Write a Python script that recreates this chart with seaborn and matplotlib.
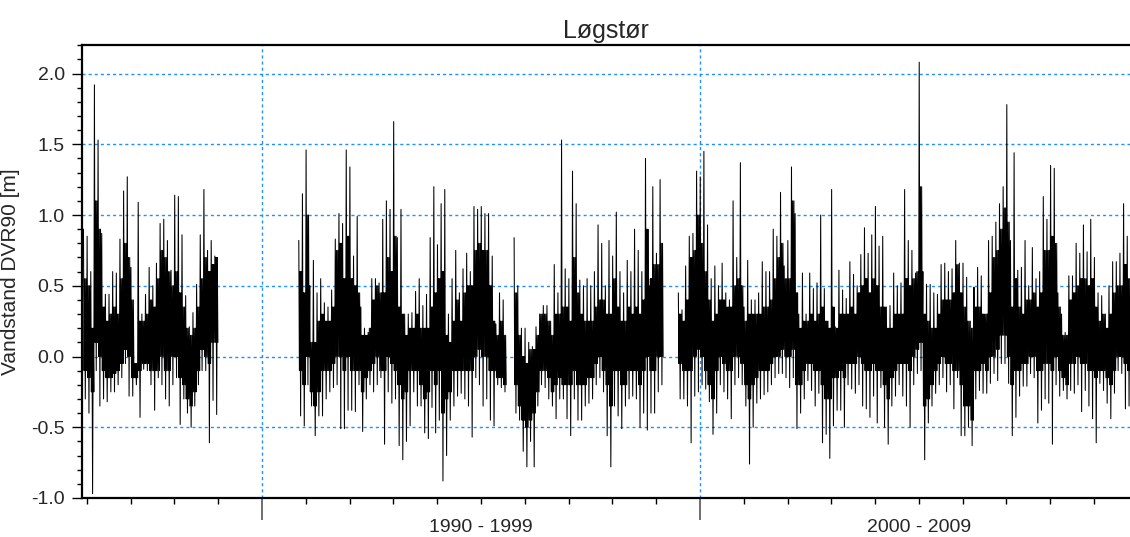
import numpy as np
import pandas as pd
import matplotlib
matplotlib.use("Agg")
import matplotlib.pyplot as plt
from matplotlib.ticker import MultipleLocator, FixedLocator, FormatStrFormatter, NullFormatter
import seaborn as sns

# ─── DATA (monthly water level, m DVR90) ─────────────────
# per segment: first month, monthly max / min and the dense "core" band (upper / lower)
SEG1_START = (1985, 12)
hi1 = [0.90, 0.85, 0.60, 1.92, 1.53, 0.87, 0.44, 0.44, 0.60, 0.59, 0.83, 1.17, 1.27,
       0.63, -0.05, 1.09, 0.30, 0.44, 0.63, 0.50, 0.66, 0.94, 0.97, 0.82, 0.61, 1.14,
       1.13, 0.86, 0.43, 0.21, 0.31, 0.51, 0.86, 1.18, 0.75, 0.82, 0.71]
lo1 = [-0.30, -0.40, -0.97, -0.10, -0.35, -0.30, -0.32, -0.25, -0.25, -0.20, -0.15, -0.05,
       -0.28, -0.28, -0.20, -0.43, -0.09, -0.10, -0.20, -0.38, -0.15, -0.20, -0.30, -0.35,
       -0.20, -0.15, -0.48, -0.30, -0.40, -0.50, -0.35, -0.20, -0.10, -0.10, -0.61, -0.31, -0.41]
chi1 = [0.55, 0.50, 0.20, 1.10, 0.90, 0.35, 0.25, 0.30, 0.35, 0.30, 0.55, 0.80, 0.70,
        0.40, -0.05, 0.25, 0.25, 0.30, 0.40, 0.35, 0.55, 0.75, 0.70, 0.60, 0.50, 0.60,
        0.45, 0.35, 0.20, 0.15, 0.20, 0.35, 0.55, 0.70, 0.60, 0.65, 0.70]
clo1 = [-0.10, -0.15, -0.25, 0.10, 0.00, -0.10, -0.15, -0.15, -0.12, -0.10, -0.05, 0.05,
        0.00, -0.15, -0.15, -0.10, -0.05, -0.05, -0.10, -0.10, -0.10, 0.00, -0.10, -0.10,
        0.00, 0.00, -0.15, -0.20, -0.30, -0.35, -0.25, -0.10, 0.05, 0.00, -0.05, 0.10, 0.10]

SEG2_START = (1990, 11)
hi2 = [0.82, 1.15, 1.46, 0.50, 0.68, 0.45, 0.55, 0.38, 0.35, 0.47, 0.83, 1.01, 0.94, 1.46,
       1.34, 0.71, 0.99, 0.35, 0.20, 0.17, 0.55, 0.55, 0.52, 0.97, 1.10, 1.04, 1.66, 0.84,
       1.04, 0.30, 0.30, 0.31, 0.46, 0.55, 0.36, 0.44, 0.84, 1.20, 0.79, 1.08, 1.18, 0.30,
       0.55, 0.75, 0.45, 0.62, 0.73, 0.60, 1.06, 1.04, 1.06, 1.01, 1.01, 0.71, 0.23, 0.45, 0.40]
lo2 = [-0.42, -0.49, -0.20, -0.35, -0.56, -0.42, -0.42, -0.30, -0.25, -0.22, -0.20, -0.51,
       -0.51, -0.38, -0.38, -0.39, -0.20, -0.53, -0.30, -0.20, -0.25, -0.20, -0.15, -0.62,
       -0.25, -0.33, -0.30, -0.63, -0.73, -0.60, -0.49, -0.25, -0.35, -0.35, -0.54, -0.58,
       -0.36, -0.54, -0.45, -0.88, -0.70, -0.45, -0.35, -0.28, -0.26, -0.30, -0.35, -0.57,
       -0.15, -0.20, -0.35, -0.30, -0.45, -0.49, -0.20, -0.22, -0.25]
chi2 = [0.60, 0.45, 1.00, 0.10, 0.10, 0.25, 0.30, 0.25, 0.25, 0.35, 0.75, 0.80, 0.55, 0.85,
        0.55, 0.50, 0.45, 0.15, 0.15, 0.20, 0.40, 0.50, 0.45, 0.45, 0.70, 0.60, 0.85, 0.35,
        0.30, 0.15, 0.20, 0.20, 0.30, 0.20, 0.20, 0.20, 0.35, 0.45, 0.55, 0.60, 0.15, 0.10,
        0.25, 0.40, 0.25, 0.45, 0.50, 0.50, 0.75, 0.80, 0.75, 0.75, 0.50, 0.25, 0.15, 0.25, 0.15]
clo2 = [-0.10, -0.20, 0.00, -0.25, -0.35, -0.25, -0.10, -0.10, -0.10, -0.05, 0.00, 0.00,
        -0.10, 0.00, -0.10, -0.10, -0.10, -0.25, -0.15, -0.10, -0.05, 0.00, -0.10, -0.10,
        0.00, -0.05, -0.10, -0.20, -0.30, -0.25, -0.10, -0.10, -0.10, -0.20, -0.30, -0.25,
        -0.10, -0.20, -0.10, -0.40, -0.30, -0.25, -0.10, -0.10, -0.10, -0.10, -0.10, -0.10,
        0.00, 0.05, 0.00, 0.00, -0.10, -0.10, -0.15, -0.15, -0.20]

SEG3_START = (1995, 10)
hi3 = [0.84, 0.50, 0.20, 0.20, 0.10, 0.07, 0.21, 0.30, 0.36, 0.36, 0.25, 0.65, 0.45, 1.53,
       0.62, 0.55, 1.31, 1.08, 0.54, 0.50, 0.55, 0.50, 0.60, 0.93, 0.80, 0.50, 0.82, 0.71,
       1.02, 0.60, 0.45, 0.68, 0.60, 0.90, 0.75, 0.60, 1.40, 0.50, 1.20, 0.73, 1.25]
lo3 = [-0.40, -0.45, -0.67, -0.78, -0.60, -0.78, -0.35, -0.20, -0.22, -0.30, -0.35, -0.44,
       -0.30, -0.30, -0.44, -0.56, -0.30, -0.45, -0.45, -0.35, -0.33, -0.30, -0.20, -0.15,
       -0.25, -0.56, -0.78, -0.35, -0.42, -0.51, -0.35, -0.30, -0.28, -0.30, -0.50, -0.40,
       -0.52, -0.40, -0.40, -0.25, -0.20]
chi3 = [0.45, 0.15, 0.00, -0.05, 0.05, 0.05, 0.15, 0.30, 0.30, 0.25, 0.15, 0.30, 0.30, 0.35,
        0.35, 0.25, 0.70, 0.45, 0.30, 0.25, 0.25, 0.25, 0.35, 0.40, 0.40, 0.30, 0.30, 0.55,
        0.35, 0.25, 0.25, 0.35, 0.30, 0.35, 0.30, 0.40, 0.90, 0.55, 0.65, 0.65, 0.80]
clo3 = [-0.20, -0.35, -0.45, -0.50, -0.45, -0.40, -0.25, -0.10, -0.10, -0.15, -0.25, -0.20,
        -0.15, -0.20, -0.20, -0.20, -0.10, -0.20, -0.20, -0.20, -0.15, -0.15, -0.05, 0.00,
        -0.10, -0.20, -0.35, -0.10, -0.10, -0.20, -0.20, -0.10, -0.10, -0.10, -0.20, -0.10,
        0.00, -0.10, -0.10, 0.00, 0.00]

SEG4_START = (1999, 7)
hi4 = [0.45, 0.33, 0.64, 0.85, 0.87, 1.31, 1.27, 1.45, 0.93, 0.55,
       0.64, 0.50, 0.66, 0.45, 0.40, 1.10, 0.70, 1.37, 0.35, 0.68,
       0.40, 0.40, 0.45, 0.67, 0.60, 0.60, 0.90, 0.85, 1.16, 0.64,
       0.82, 1.34, 1.01, 0.30, 0.59, 0.30, 0.59, 0.48, 0.52, 1.00,
       0.48, 0.25, 1.18, 0.21, 0.61, 0.47, 0.41, 0.67, 0.58, 0.50,
       0.72, 0.91, 0.73, 0.86, 1.06, 0.78, 0.85, 0.35, 0.36, 0.59,
       0.50, 0.52, 1.18, 0.82, 0.75, 0.59, 2.08, 0.60, 0.51, 0.51,
       0.45, 0.44, 0.65, 0.66, 0.60, 0.62, 0.82, 0.66, 0.66, 0.56,
       0.25, 0.49, 0.63, 0.57, 0.30, 0.82, 0.85, 0.95, 1.08, 1.20,
       1.78, 0.82, 1.44, 0.61, 0.63, 0.82, 0.50, 0.77, 0.55, 0.60,
       1.13, 0.97, 1.35, 1.33, 0.45, 0.30, 0.17, 0.57, 0.57, 0.80,
       0.73, 0.93, 0.74, 0.97, 0.70, 0.45, 0.43, 0.30, 0.50, 0.67,
       0.67, 0.73, 1.08, 0.85]
lo4 = [-0.30, -0.30, -0.35, -0.61, -0.28, -0.25, -0.20, -0.23, -0.32, -0.55,
       -0.40, -0.20, -0.25, -0.30, -0.44, -0.20, -0.15, -0.20, -0.35, -0.76,
       -0.50, -0.33, -0.30, -0.27, -0.25, -0.20, -0.15, -0.12, -0.12, -0.15,
       -0.22, -0.15, -0.51, -0.40, -0.30, -0.17, -0.24, -0.35, -0.26, -0.61,
       -0.55, -0.72, -0.49, -0.38, -0.38, -0.50, -0.20, -0.23, -0.26, -0.20,
       -0.35, -0.37, -0.43, -0.28, -0.47, -0.22, -0.50, -0.62, -0.35, -0.28,
       -0.20, -0.28, -0.35, -0.50, -0.20, -0.12, -0.10, -0.73, -0.47, -0.35,
       -0.26, -0.20, -0.15, -0.25, -0.20, -0.37, -0.15, -0.56, -0.56, -0.50,
       -0.63, -0.30, -0.24, -0.26, -0.26, -0.19, -0.12, -0.17, -0.05, -0.05,
       -0.19, -0.56, -0.43, -0.28, -0.21, -0.21, -0.12, -0.15, -0.47, -0.38,
       -0.30, -0.33, -0.62, -0.20, -0.28, -0.24, -0.30, -0.24, -0.26, -0.20,
       -0.39, -0.24, -0.35, -0.44, -0.61, -0.19, -0.24, -0.33, -0.44, -0.26,
       -0.10, -0.12, -0.37, -0.35]
chi4 = [0.30, 0.25, 0.40, 0.70, 0.75, 1.00, 0.80, 0.60, 0.40, 0.25,
        0.30, 0.40, 0.40, 0.35, 0.35, 0.50, 0.55, 0.50, 0.25, 0.30,
        0.30, 0.30, 0.30, 0.35, 0.35, 0.40, 0.55, 0.70, 0.80, 0.55,
        0.55, 1.10, 0.45, 0.20, 0.25, 0.25, 0.30, 0.25, 0.30, 0.35,
        0.25, 0.20, 0.35, 0.20, 0.30, 0.30, 0.30, 0.35, 0.30, 0.45,
        0.50, 0.55, 0.45, 0.55, 0.50, 0.35, 0.35, 0.20, 0.20, 0.30,
        0.30, 0.30, 0.55, 0.50, 0.55, 0.60, 1.20, 0.30, 0.25, 0.20,
        0.20, 0.30, 0.40, 0.40, 0.40, 0.45, 0.65, 0.45, 0.35, 0.25,
        0.20, 0.35, 0.35, 0.30, 0.30, 0.45, 0.70, 0.75, 0.90, 1.05,
        0.95, 0.35, 0.55, 0.35, 0.30, 0.40, 0.40, 0.45, 0.35, 0.45,
        0.75, 0.75, 0.85, 0.80, 0.35, 0.15, 0.15, 0.40, 0.45, 0.50,
        0.55, 0.55, 0.50, 0.55, 0.35, 0.25, 0.30, 0.20, 0.30, 0.45,
        0.50, 0.50, 0.65, 0.55]
clo4 = [-0.05, -0.10, -0.10, -0.10, 0.00, 0.05, 0.00, -0.10, -0.20, -0.30,
        -0.10, 0.00, -0.05, -0.10, -0.10, 0.00, 0.00, -0.05, -0.20, -0.30,
        -0.20, -0.15, -0.10, -0.10, -0.10, -0.05, 0.00, 0.00, 0.05, 0.00,
        0.00, 0.05, -0.20, -0.20, -0.10, -0.05, -0.05, -0.10, -0.10, -0.20,
        -0.30, -0.30, -0.15, -0.15, -0.10, -0.15, -0.05, -0.05, -0.05, 0.00,
        -0.05, -0.10, -0.10, -0.05, -0.10, -0.10, -0.20, -0.30, -0.15, -0.10,
        -0.05, -0.05, -0.05, -0.10, 0.00, 0.05, 0.10, -0.35, -0.30, -0.20,
        -0.10, -0.05, 0.00, -0.05, -0.05, -0.10, -0.10, -0.20, -0.35, -0.35,
        -0.45, -0.10, -0.10, -0.05, -0.10, 0.00, 0.00, 0.05, 0.15, 0.15,
        0.00, -0.20, -0.10, -0.10, -0.05, -0.05, 0.00, 0.00, -0.10, -0.10,
        -0.05, -0.05, -0.10, 0.00, -0.10, -0.15, -0.20, -0.05, -0.05, 0.00,
        -0.05, -0.05, -0.10, -0.10, -0.15, -0.10, -0.10, -0.15, -0.20, -0.10,
        0.00, 0.00, -0.05, -0.10]

DECADE_LABELS = ["1990 - 1999", "2000 - 2009"]
DECADE_MID = [1995, 2005]
DECADE_TICKS = [1990, 2000]
TITLE = "Løgstør"
YLABEL = "Vandstand DVR90 [m]"

# ─── BUILD LONG TABLE ────────────────────────────────────
# inside each month the trace runs max -> core low -> core high -> min -> core high -> core low
rows = []
segments = [(SEG1_START, hi1, lo1, chi1, clo1), (SEG2_START, hi2, lo2, chi2, clo2),
            (SEG3_START, hi3, lo3, chi3, clo3), (SEG4_START, hi4, lo4, chi4, clo4)]
for s, (start, hi, lo, chi, clo) in enumerate(segments):
    t0 = start[0] + (start[1] - 1) / 12
    for k in range(len(hi)):
        seq = [hi[k], clo[k], chi[k], lo[k], chi[k], clo[k]]
        for j, v in enumerate(seq):
            rows.append((s, t0 + (k + (j + 0.5) / 6) / 12, v))
df = pd.DataFrame(rows, columns=["seg", "t", "v"])

# ─── PLOT ────────────────────────────────────────────────
sns.set_style("white")
plt.rcParams["font.family"] = ["Liberation Sans", "DejaVu Sans"]
plt.rcParams["axes.unicode_minus"] = False

fig = plt.figure(figsize=(11.3, 5.37), dpi=100)
ax = fig.add_axes([82 / 1130, 1 - 498 / 537, 1 - 82 / 1130, (498 - 44.5) / 537])

grid_col = "#1e90ff"
for yv in np.arange(-0.5, 2.01, 0.5):
    ax.axhline(yv, color=grid_col, lw=1, ls=(0, (2.2, 2.2)), zorder=0)
for xv in DECADE_TICKS:
    ax.axvline(xv, color=grid_col, lw=1, ls=(0, (2.2, 2.2)), zorder=0)

sns.lineplot(data=df, x="t", y="v", units="seg", estimator=None, sort=False,
             color="black", lw=0.75, ax=ax, legend=False)

ax.set_xlim(1985.89, 2009.82)
ax.set_ylim(-1.0, 2.205)

ax.yaxis.set_major_locator(MultipleLocator(0.5))
ax.yaxis.set_minor_locator(MultipleLocator(0.1))
ax.yaxis.set_major_formatter(FormatStrFormatter("%.1f"))
ax.tick_params(axis="y", which="major", length=7.5, width=1, color="black",
               labelsize=14, pad=5, direction="out", left=True)
ax.tick_params(axis="y", which="minor", length=3.8, width=1, color="black",
               direction="out", left=True)

ax.xaxis.set_major_locator(FixedLocator(DECADE_TICKS))
ax.xaxis.set_minor_locator(MultipleLocator(1))
ax.xaxis.set_major_formatter(NullFormatter())
ax.tick_params(axis="x", which="major", length=16, width=1.2, color="#555555",
               direction="out", bottom=True)
ax.tick_params(axis="x", which="minor", length=4, width=1, color="black",
               direction="out", bottom=True)

for xm, lab in zip(DECADE_MID, DECADE_LABELS):
    ax.annotate(lab, xy=(xm, 0), xycoords=("data", "axes fraction"),
                xytext=(0, -21), textcoords="offset points",
                ha="center", va="center", fontsize=14)

for side in ["left", "top", "bottom"]:
    ax.spines[side].set_visible(True)
    ax.spines[side].set_color("black")
    ax.spines[side].set_linewidth(1.6)
ax.spines["right"].set_visible(False)

ax.set_xlabel("")
ax.set_ylabel(YLABEL, fontsize=15, labelpad=8)
ax.set_title(TITLE, fontsize=18, pad=5)

fig.savefig("out.png", dpi=100)
plt.close(fig)
